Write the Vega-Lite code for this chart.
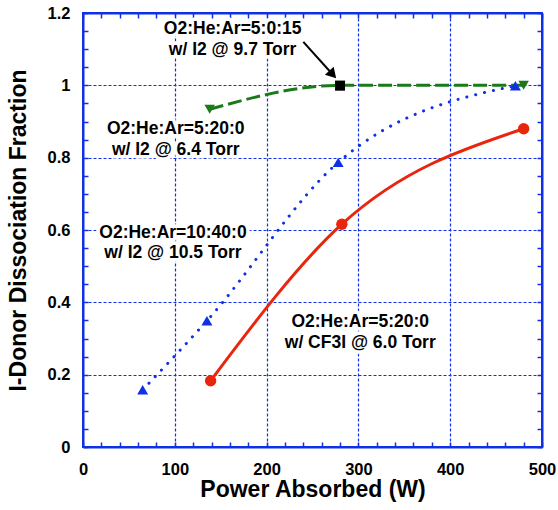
{
  "$schema": "https://vega.github.io/schema/vega-lite/v6.json",
  "width": 459,
  "height": 434,
  "autosize": "none",
  "padding": {"left": 83, "top": 13, "right": 16, "bottom": 63},
  "background": "white",
  "config": {
    "view": {"stroke": "#1030e8", "strokeWidth": 2},
    "font": "Liberation Sans",
    "axis": {
      "labelFont": "Liberation Sans", "labelFontWeight": "bold", "labelFontSize": 16.5, "labelColor": "black",
      "titleFont": "Liberation Sans", "titleFontWeight": "bold", "titleFontSize": 23, "titleColor": "black",
      "domainColor": "#1030e8", "domainWidth": 2,
      "tickColor": "#1030e8", "tickWidth": 1.5, "tickSize": -5,
      "gridColor": "#1030e8", "gridDash": [3, 2], "gridWidth": 1.2,
      "labelOverlap": false, "labelFlush": false
    }
  },
  "datasets": {
    "pts": [
      {"power": 139, "frac": 0.183, "series": "CF3I"},
      {"power": 282, "frac": 0.616, "series": "CF3I"},
      {"power": 480, "frac": 0.88, "series": "CF3I"},
      {"power": 65, "frac": 0.158, "series": "I2 10.5"},
      {"power": 135, "frac": 0.349, "series": "I2 10.5"},
      {"power": 278, "frac": 0.787, "series": "I2 10.5"},
      {"power": 471, "frac": 0.999, "series": "I2 10.5"},
      {"power": 138, "frac": 0.934, "series": "I2 6.4"},
      {"power": 280, "frac": 1.0, "series": "I2 6.4"},
      {"power": 480, "frac": 1.0, "series": "I2 6.4"},
      {"power": 280, "frac": 0.999, "series": "I2 9.7"}
    ],
    "ann": [
      {"x": 163, "y": 1.156, "t": "O2:He:Ar=5:0:15"},
      {"x": 163, "y": 1.098, "t": "w/ I2 @ 9.7 Torr"},
      {"x": 101, "y": 0.879, "t": "O2:He:Ar=5:20:0"},
      {"x": 101, "y": 0.821, "t": "w/ I2 @ 6.4 Torr"},
      {"x": 98, "y": 0.592, "t": "O2:He:Ar=10:40:0"},
      {"x": 98, "y": 0.536, "t": "w/ I2 @ 10.5 Torr"},
      {"x": 302, "y": 0.346, "t": "O2:He:Ar=5:20:0"},
      {"x": 302, "y": 0.288, "t": "w/ CF3I @ 6.0 Torr"}
    ],
    "arrow": [{"x": 240, "y": 1.12, "x2": 272, "y2": 1.03}]
  },
  "layer": [
    {
      "data": {"name": "pts"},
      "mark": {"type": "point", "opacity": 0},
      "encoding": {
        "x": {"field": "power", "type": "quantitative", "scale": {"domain": [0, 500], "nice": false, "zero": false},
          "axis": {"orient": "bottom", "title": "Power Absorbed (W)",
            "values": [0,20,40,60,80,100,120,140,160,180,200,220,240,260,280,300,320,340,360,380,400,420,440,460,480,500],
            "labelExpr": "datum.value % 100 === 0 ? datum.label : ''",
            "grid": true,
            "gridOpacity": {"condition": {"test": "datum.value % 100 === 0 && datum.value > 0 && datum.value < 500", "value": 1}, "value": 0},
            "labelPadding": 19, "titlePadding": 1}},
        "y": {"field": "frac", "type": "quantitative", "scale": {"domain": [0, 1.2], "nice": false, "zero": false},
          "axis": {"orient": "left", "title": "I-Donor Dissociation Fraction", "format": "~g",
            "values": [0,0.05,0.1,0.15,0.2,0.25,0.3,0.35,0.4,0.45,0.5,0.55,0.6,0.65,0.7,0.75,0.8,0.85,0.9,0.95,1,1.05,1.1,1.15,1.2],
            "labelExpr": "abs(datum.value*5 - round(datum.value*5)) < 1e-6 ? datum.label : ''",
            "grid": true,
            "gridOpacity": {"condition": {"test": "abs(datum.value*5 - round(datum.value*5)) < 1e-6 && datum.value > 0.01 && datum.value < 1.19", "value": 1}, "value": 0},
            "labelPadding": 18, "titlePadding": 17}}
      }
    },
    {
      "data": {"name": "pts"},
      "mark": {"type": "point", "opacity": 0},
      "encoding": {
        "x": {"field": "power", "type": "quantitative", "scale": {"domain": [0, 500], "nice": false, "zero": false},
          "axis": {"orient": "top", "title": null, "labels": false, "grid": false,
            "values": [0,20,40,60,80,100,120,140,160,180,200,220,240,260,280,300,320,340,360,380,400,420,440,460,480,500]}},
        "y": {"field": "frac", "type": "quantitative", "scale": {"domain": [0, 1.2], "nice": false, "zero": false},
          "axis": {"orient": "right", "title": null, "labels": false, "grid": false,
            "values": [0,0.05,0.1,0.15,0.2,0.25,0.3,0.35,0.4,0.45,0.5,0.55,0.6,0.65,0.7,0.75,0.8,0.85,0.9,0.95,1,1.05,1.1,1.15,1.2]}}
      }
    },
    {
      "data": {"name": "ann"},
      "mark": {"type": "text", "fontSize": 17.5, "fontWeight": "bold", "font": "Liberation Sans", "align": "center", "baseline": "middle", "fill": "white", "stroke": "white", "strokeWidth": 7, "strokeJoin": "round"},
      "encoding": {
        "x": {"field": "x", "type": "quantitative", "axis": null, "scale": {"domain": [0, 500], "nice": false, "zero": false}},
        "y": {"field": "y", "type": "quantitative", "axis": null, "scale": {"domain": [0, 1.2], "nice": false, "zero": false}},
        "text": {"field": "t"}
      }
    },
    {
      "data": {"name": "ann"},
      "mark": {"type": "text", "fontSize": 17.5, "fontWeight": "bold", "font": "Liberation Sans", "align": "center", "baseline": "middle", "color": "black"},
      "encoding": {
        "x": {"field": "x", "type": "quantitative", "axis": null, "scale": {"domain": [0, 500], "nice": false, "zero": false}},
        "y": {"field": "y", "type": "quantitative", "axis": null, "scale": {"domain": [0, 1.2], "nice": false, "zero": false}},
        "text": {"field": "t"}
      }
    },
    {
      "data": {"name": "arrow"},
      "mark": {"type": "rule", "color": "black", "strokeWidth": 2},
      "encoding": {
        "x": {"field": "x", "type": "quantitative", "axis": null, "scale": {"domain": [0, 500], "nice": false, "zero": false}},
        "y": {"field": "y", "type": "quantitative", "axis": null, "scale": {"domain": [0, 1.2], "nice": false, "zero": false}},
        "x2": {"field": "x2"},
        "y2": {"field": "y2"}
      }
    },
    {
      "data": {"name": "arrow"},
      "mark": {"type": "point", "shape": "triangle-up", "filled": true, "color": "black", "opacity": 1, "size": 140, "angle": 138},
      "encoding": {
        "x": {"field": "x2", "type": "quantitative", "axis": null, "scale": {"domain": [0, 500], "nice": false, "zero": false}},
        "y": {"field": "y2", "type": "quantitative", "axis": null, "scale": {"domain": [0, 1.2], "nice": false, "zero": false}}
      }
    },
    {
      "data": {"name": "pts"},
      "transform": [{"filter": "datum.series === 'CF3I'"}],
      "mark": {"type": "line", "color": "#e8260e", "strokeWidth": 3, "interpolate": "monotone"},
      "encoding": {
        "x": {"field": "power", "type": "quantitative", "axis": null, "scale": {"domain": [0, 500], "nice": false, "zero": false}},
        "y": {"field": "frac", "type": "quantitative", "axis": null, "scale": {"domain": [0, 1.2], "nice": false, "zero": false}}
      }
    },
    {
      "data": {"name": "pts"},
      "transform": [{"filter": "datum.series === 'I2 10.5'"}],
      "mark": {"type": "line", "color": "#1030e8", "strokeWidth": 3, "strokeCap": "round", "strokeDash": [0.1, 9], "interpolate": "monotone"},
      "encoding": {
        "x": {"field": "power", "type": "quantitative", "axis": null, "scale": {"domain": [0, 500], "nice": false, "zero": false}},
        "y": {"field": "frac", "type": "quantitative", "axis": null, "scale": {"domain": [0, 1.2], "nice": false, "zero": false}}
      }
    },
    {
      "data": {"name": "pts"},
      "transform": [{"filter": "datum.series === 'I2 6.4'"}],
      "mark": {"type": "line", "color": "#1a7a1a", "strokeWidth": 3, "strokeDash": [14, 5], "interpolate": "monotone"},
      "encoding": {
        "x": {"field": "power", "type": "quantitative", "axis": null, "scale": {"domain": [0, 500], "nice": false, "zero": false}},
        "y": {"field": "frac", "type": "quantitative", "axis": null, "scale": {"domain": [0, 1.2], "nice": false, "zero": false}}
      }
    },
    {
      "data": {"name": "pts"},
      "mark": {"type": "point", "filled": true, "opacity": 1},
      "encoding": {
        "x": {"field": "power", "type": "quantitative", "axis": null, "scale": {"domain": [0, 500], "nice": false, "zero": false}},
        "y": {"field": "frac", "type": "quantitative", "axis": null, "scale": {"domain": [0, 1.2], "nice": false, "zero": false}},
        "shape": {"field": "series", "type": "nominal", "legend": null,
          "scale": {"domain": ["CF3I", "I2 10.5", "I2 6.4", "I2 9.7"], "range": ["circle", "triangle-up", "triangle-down", "square"]}},
        "color": {"field": "series", "type": "nominal", "legend": null,
          "scale": {"domain": ["CF3I", "I2 10.5", "I2 6.4", "I2 9.7"], "range": ["#e8260e", "#1030e8", "#1a7a1a", "black"]}},
        "size": {"field": "series", "type": "nominal", "legend": null,
          "scale": {"domain": ["CF3I", "I2 10.5", "I2 6.4", "I2 9.7"], "range": [130, 100, 100, 140]}}
      }
    }
  ],
  "resolve": {"axis": {"x": "independent", "y": "independent"}}
}
